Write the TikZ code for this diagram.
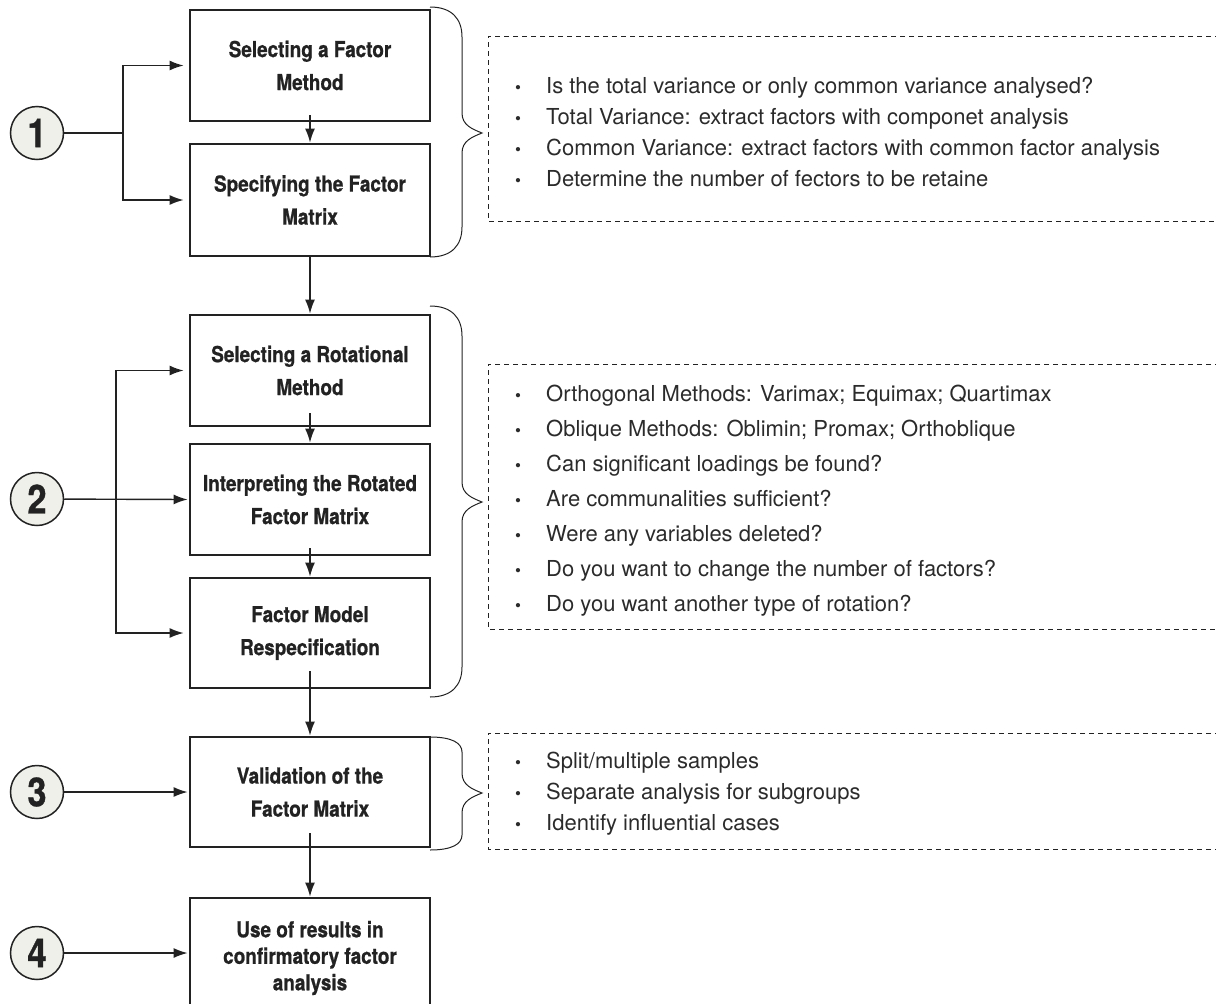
\documentclass[tikz,border=0pt]{standalone}
\usepackage{fontspec}
\setmainfont{TeX Gyre Heros}
\newfontfamily\condfont[FakeStretch=0.86,FakeBold=0.8]{TeX Gyre Heros}
\usetikzlibrary{arrows.meta,calc}
\definecolor{ink}{HTML}{222222}
\definecolor{txt}{HTML}{2B2B2B}
\definecolor{badgefill}{HTML}{F0F0EA}

% right-hand curly brace: top y, bottom y, tip y, corner size
\newcommand\drawcurly[4]{%
  \draw[curly] (430,#1) .. controls (452,#1) and (462,#1+#4*0.4) .. (462,#1+#4)
    -- (462,#3-20) .. controls (462,#3-8) and (472,#3-4) .. (482,#3)
    .. controls (472,#3+4) and (462,#3+8) .. (462,#3+20)
    -- (462,#2-#4) .. controls (462,#2-#4*0.4) and (452,#2) .. (430,#2);}

\begin{document}
\begin{tikzpicture}[x=1pt,y=-1pt,
  stepbox/.style={draw=ink, line width=2.8pt, minimum width=240pt, inner sep=0pt,
    align=center, text=ink, font=\condfont\bfseries\fontsize{22}{33}\selectfont},
  badge/.style={circle, draw=ink, line width=1.5pt, fill=badgefill, minimum size=53pt,
    inner sep=0pt, text=ink, font=\condfont\bfseries\fontsize{40}{40}\selectfont},
  wire/.style={draw=ink, line width=1.4pt},
  link/.style={wire, -{Latex[length=14pt,width=10pt]}},
  curly/.style={draw=ink, line width=1pt},
  notebox/.style={draw=ink, line width=1pt, dash pattern=on 5pt off 4pt},
  dot/.style={anchor=base, inner sep=0pt, text=txt, font=\fontsize{17}{17}\selectfont},
  item/.style={anchor=base west, inner sep=0pt, text=txt, font=\fontsize{22}{22}\selectfont},
]
\useasboundingbox (0,0) rectangle (1216,1004);
\clip (0,0) rectangle (1216,1004);

% process steps
\node[stepbox, minimum height=111pt] (b1) at (310,65.5) {Selecting a Factor\\Method};
\node[stepbox, minimum height=112pt] (b2) at (310,200) {Specifying the Factor\\Matrix};
\node[stepbox, minimum height=111pt] (b3) at (310,370.5) {Selecting a Rotational\\Method};
\node[stepbox, minimum height=111pt] (b4) at (310,499.5) {Interpreting the Rotated\\Factor Matrix};
\node[stepbox, minimum height=110pt] (b5) at (310,633) {Factor Model\\Respecification};
\node[stepbox, minimum height=110pt] (b6) at (310,792) {Validation of the\\Factor Matrix};
\node[stepbox, minimum height=120pt, font=\condfont\bfseries\fontsize{22}{26.5}\selectfont]
  (b7) at (310,958) {Use of results in\\confirmatory factor\\analysis};

% stage numbers
\node[badge] (c1) at (37,133) {1};
\node[badge] (c2) at (37,499) {2};
\node[badge] (c3) at (37,792) {3};
\node[badge] (c4) at (37,953) {4};

% stage connectors
\coordinate (j1) at (123,133);
\draw[wire] (c1) -- (j1);
\draw[link, shorten >=5pt] (j1) |- (b1.west);
\draw[link, shorten >=5pt] (j1) |- (b2.west);

\coordinate (j2) at (116,499);
\draw[link, shorten >=1pt] (c2) -- (b4.west);
\draw[link, shorten >=5pt] (j2) |- (b3.west);
\draw[link, shorten >=5pt] (j2) |- (b5.west);

\draw[link, shorten >=1pt] (c3) -- (b6.west);
\draw[link, shorten >=1pt] (c4) -- (c4 -| b7.west);

% flow between steps
\draw[link] ($(b1.south)+(0,-7)$) -- (b2.north);
\draw[link] (b2.south) -- (b3.north);
\draw[link] ($(b3.south)+(0,-14)$) -- (b4.north);
\draw[link] ($(b4.south)+(0,-8)$) -- (b5.north);
\draw[link] ($(b5.south)+(0,-18)$) -- (b6.north);
\draw[link] ($(b6.south)+(0,-15)$) -- (b7.north);

% braces
\drawcurly{7}{257}{133}{30}
\drawcurly{306}{697}{502}{30}
\drawcurly{737}{850}{793}{15}

% note panels
\draw[notebox] (1220,36) -| (488,221) -- (1220,221);
\draw[notebox] (1220,364) -| (488,629) -- (1220,629);
\draw[notebox] (1220,733) -| (488,849) -- (1220,849);

% notes for stage 1
\foreach \y/\t [count=\i] in {85/{Is the total variance or only common variance analysed?},
  116/{Total Variance: extract factors with componet analysis},
  147/{Common Variance: extract factors with common factor analysis},
  178/{Determine the number of fectors to be retaine}} {
  \node[dot] (d1-\i) at (518,\y+8) {\textbullet};
  \node[item] (t1-\i) at (546,\y+8) {\t};
}
% notes for stage 2
\foreach \y/\t [count=\i] in {393/{Orthogonal Methods: Varimax; Equimax; Quartimax},
  428/{Oblique Methods: Oblimin; Promax; Orthoblique},
  463/{Can significant loadings be found?},
  498/{Are communalities sufficient?},
  533/{Were any variables deleted?},
  568/{Do you want to change the number of factors?},
  603/{Do you want another type of rotation?}} {
  \node[dot] (d2-\i) at (518,\y+8) {\textbullet};
  \node[item] (t2-\i) at (546,\y+8) {\t};
}
% notes for stage 3
\foreach \y/\t [count=\i] in {760/{Split/multiple samples},
  791/{Separate analysis for subgroups},
  822/{Identify influential cases}} {
  \node[dot] (d3-\i) at (518,\y+8) {\textbullet};
  \node[item] (t3-\i) at (546,\y+8) {\t};
}
\end{tikzpicture}
\end{document}
